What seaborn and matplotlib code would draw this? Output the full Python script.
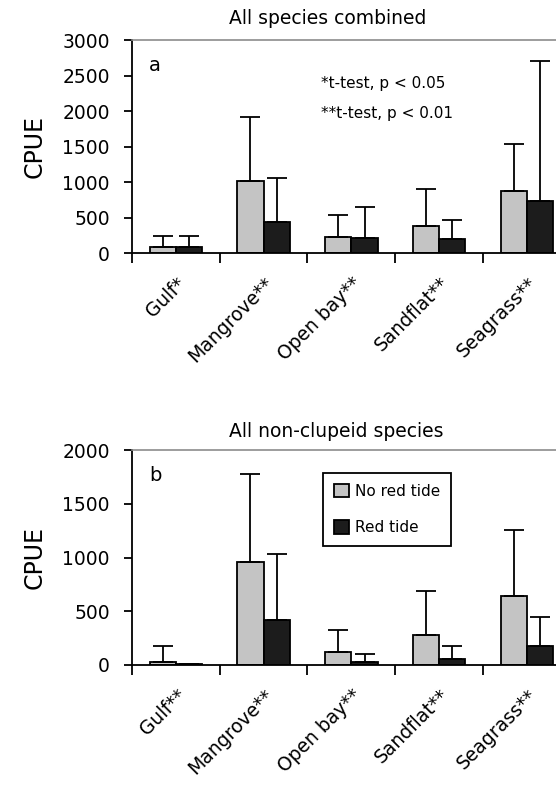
import numpy as np
import pandas as pd
import matplotlib
matplotlib.use("Agg")
import matplotlib.pyplot as plt
import seaborn as sns
from matplotlib.patches import Patch

# habitats (tick labels carry the significance stars)
habitats_a = ["Gulf*", "Mangrove**", "Open bay**", "Sandflat**", "Seagrass**"]
habitats_b = ["Gulf**", "Mangrove**", "Open bay**", "Sandflat**", "Seagrass**"]
conditions = ["No red tide", "Red tide"]

# panel a: all species combined (mean CPUE and upper SD)
a_no_tide = [80, 1010, 230, 385, 870]
a_no_tide_sd = [155, 900, 300, 520, 670]
a_red_tide = [90, 430, 205, 200, 730]
a_red_tide_sd = [145, 625, 440, 260, 1975]

# panel b: all non-clupeid species
b_no_tide = [30, 960, 125, 275, 645]
b_no_tide_sd = [145, 815, 205, 415, 610]
b_red_tide = [8, 420, 30, 55, 175]
b_red_tide_sd = [np.nan, 610, 70, 120, 270]

gray = "#c4c4c4"
black = "#1c1c1c"

sns.set_style("ticks")
plt.rcParams["font.family"] = ["DejaVu Sans"]
plt.rcParams["text.color"] = "black"
plt.rcParams["axes.labelcolor"] = "black"
plt.rcParams["xtick.color"] = "black"
plt.rcParams["ytick.color"] = "black"
plt.rcParams["axes.edgecolor"] = "black"


def draw_panel(ax, labels, no_vals, red_vals, no_sd, red_sd, ymax, title, letter, title_x, title_y):
    df = pd.DataFrame({
        "habitat": labels * 2,
        "condition": [c for c in conditions for _ in labels],
        "cpue": no_vals + red_vals,
    })
    sns.barplot(data=df, x="habitat", y="cpue", hue="condition", order=labels,
                hue_order=conditions, palette=[gray, black], saturation=1,
                edgecolor="black", linewidth=1.3, width=0.6, errorbar=None,
                legend=False, ax=ax)

    # upper-only error bars, placed at the centre of each drawn bar
    for container, sd in zip(ax.containers, [no_sd, red_sd]):
        xs = [b.get_x() + b.get_width() / 2 for b in container]
        ys = [b.get_height() for b in container]
        ax.errorbar(xs, ys, yerr=[np.zeros(len(sd)), sd], fmt="none",
                    ecolor="black", elinewidth=1.3, capsize=7, capthick=1.3)

    ax.set_xlim(-0.5, 4.5)
    ax.set_ylim(0, ymax)
    ax.set_yticks(np.arange(0, ymax + 1, 500))
    ax.tick_params(axis="y", length=6, width=1.3, pad=10, labelsize=13.5)

    ax.set_xticks(range(len(labels)))
    ax.set_xticklabels(labels, rotation=45, ha="right", rotation_mode="anchor", fontsize=13.5)
    ax.tick_params(axis="x", which="major", length=0, pad=15)
    ax.set_xticks(np.arange(-0.5, len(labels), 1), minor=True)
    ax.tick_params(axis="x", which="minor", length=7, width=1.3, direction="out")

    ax.set_xlabel("")
    ax.set_ylabel("CPUE", fontsize=17)
    ax.yaxis.set_label_coords(-0.195, 0.5)

    ax.spines["left"].set_linewidth(1.3)
    ax.spines["bottom"].set_linewidth(1.3)
    ax.spines["top"].set_color("#8c8c8c")
    ax.spines["top"].set_linewidth(1.2)
    ax.spines["right"].set_visible(False)

    ax.text(title_x, title_y, title, transform=ax.transAxes, ha="center", va="center", fontsize=13.5)
    ax.text(0.053, 0.88, letter, transform=ax.transAxes, ha="center", va="center", fontsize=14)


fig = plt.figure(figsize=(5.56, 7.88), dpi=100)
ax_a = fig.add_axes([0.2374, 0.6789, 0.7891, 0.2703])
ax_b = fig.add_axes([0.2374, 0.1561, 0.7891, 0.2728])

draw_panel(ax_a, habitats_a, a_no_tide, a_red_tide, a_no_tide_sd, a_red_tide_sd,
           3000, "All species combined", "a", 0.447, 1.099)
draw_panel(ax_b, habitats_b, b_no_tide, b_red_tide, b_no_tide_sd, b_red_tide_sd,
           2000, "All non-clupeid species", "b", 0.465, 1.084)

ax_a.text(0.431, 0.798, "*t-test, p < 0.05", transform=ax_a.transAxes, ha="left", va="center", fontsize=11)
ax_a.text(0.431, 0.657, "**t-test, p < 0.01", transform=ax_a.transAxes, ha="left", va="center", fontsize=11)

handles = [Patch(facecolor=gray, edgecolor="black", linewidth=1.3),
           Patch(facecolor=black, edgecolor="black", linewidth=1.3)]
leg = ax_b.legend(handles, conditions, loc="upper left", bbox_to_anchor=(0.435, 0.893),
                  borderaxespad=0, fontsize=11, frameon=True, fancybox=False, framealpha=1,
                  edgecolor="black", borderpad=0.7, labelspacing=1.4, handlelength=1.0,
                  handleheight=1.0, handletextpad=0.4)
leg.get_frame().set_linewidth(1.3)

fig.savefig("out.png", dpi=100)
